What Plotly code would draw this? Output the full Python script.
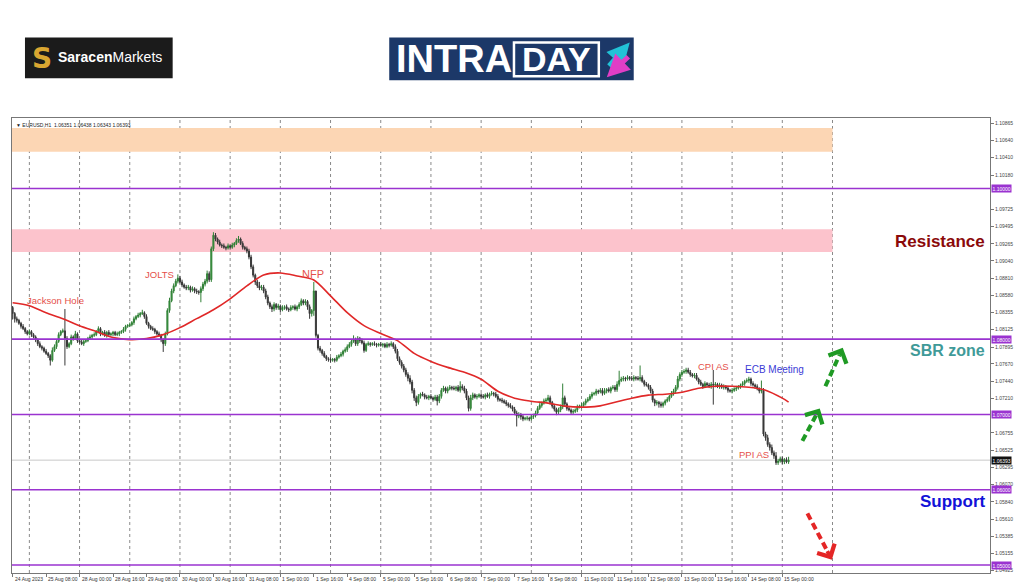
import plotly.graph_objects as go

# ------------------------------------------------------------------ data
# EURUSD H1, 24 Aug 2023 16:00 -> 15 Sep 2023 03:00 (372 bars)
# prices stored in pips above 1.0000  (price = 1 + pips/10000)
first_open_pips = 842
close_pips = [
    834, 827, 825, 821, 817, 814, 810, 807, 810, 806, 803, 799,
    794, 790, 788, 784, 781, 778, 772, 785, 790, 797, 806, 810,
    811, 801, 790, 794, 803, 801, 807, 798, 796, 794, 797, 798,
    801, 803, 805, 806, 810, 814, 807, 809, 805, 809, 806, 807,
    809, 806, 807, 809, 810, 813, 817, 818, 819, 822, 827, 830,
    832, 834, 835, 830, 821, 817, 814, 813, 810, 807, 805, 799,
    794, 807, 838, 851, 864, 871, 877, 881, 876, 872, 869, 868,
    869, 865, 867, 864, 863, 862, 867, 873, 877, 887, 879, 920,
    938, 933, 929, 925, 924, 922, 921, 924, 922, 925, 927, 931,
    933, 927, 922, 920, 917, 909, 896, 885, 876, 871, 868, 869,
    864, 856, 848, 843, 840, 846, 842, 844, 839, 842, 843, 840,
    839, 842, 843, 840, 843, 846, 851, 848, 850, 843, 834, 838,
    864, 805, 788, 785, 781, 777, 774, 773, 772, 773, 772, 776,
    778, 780, 784, 786, 790, 793, 797, 799, 794, 801, 798, 795,
    785, 793, 794, 793, 794, 793, 792, 793, 792, 793, 790, 793,
    792, 794, 790, 784, 774, 769, 764, 759, 753, 748, 743, 732,
    722, 716, 724, 727, 726, 723, 722, 724, 722, 720, 723, 718,
    724, 732, 735, 731, 734, 736, 735, 734, 736, 732, 737, 735,
    731, 722, 708, 722, 726, 723, 724, 726, 724, 723, 726, 724,
    727, 728, 727, 724, 720, 719, 718, 716, 714, 712, 710, 707,
    702, 698, 700, 697, 694, 695, 695, 694, 697, 698, 702, 708,
    712, 715, 718, 719, 722, 716, 711, 707, 703, 706, 710, 722,
    714, 708, 706, 703, 704, 706, 710, 711, 712, 715, 718, 720,
    724, 727, 728, 731, 730, 732, 728, 731, 733, 731, 735, 736,
    733, 740, 745, 747, 748, 747, 749, 748, 747, 749, 748, 747,
    749, 744, 740, 739, 736, 731, 719, 715, 716, 714, 712, 715,
    718, 720, 724, 728, 731, 736, 747, 753, 756, 757, 759, 756,
    753, 751, 752, 747, 743, 740, 737, 741, 739, 737, 740, 739,
    740, 737, 739, 736, 737, 735, 732, 731, 732, 734, 735, 737,
    739, 741, 744, 745, 747, 741, 739, 737, 734, 731, 732, 674,
    669, 660, 656, 649, 645, 636, 638, 641, 637, 640, 637, 639.3,
]
upper_wick_pips = [
    2, 2, 3, 2, 2, 3, 2, 2, 3, 2, 2, 2,
    2, 3, 2, 2, 3, 2, 2, 4, 3, 2, 3, 2,
    3, 29, 3, 2, 3, 2, 4, 2, 2, 3, 2, 2,
    2, 3, 2, 3, 2, 3, 2, 2, 3, 2, 3, 2,
    2, 2, 3, 2, 2, 3, 2, 2, 3, 2, 3, 2,
    3, 2, 4, 2, 3, 2, 2, 3, 2, 2, 3, 2,
    2, 3, 3, 4, 3, 3, 3, 5, 3, 3, 2, 3,
    3, 2, 3, 2, 3, 2, 3, 3, 3, 4, 3, 3,
    4, 3, 2, 3, 2, 3, 2, 3, 2, 3, 2, 3,
    4, 2, 3, 2, 3, 3, 3, 3, 2, 3, 5, 3,
    3, 3, 3, 2, 3, 3, 2, 3, 2, 3, 2, 3,
    2, 3, 2, 3, 2, 3, 3, 2, 3, 2, 3, 2,
    12, 0, 2, 3, 2, 3, 2, 2, 3, 2, 2, 3,
    2, 3, 2, 3, 3, 3, 3, 6, 3, 3, 2, 3,
    3, 2, 3, 2, 2, 3, 2, 2, 3, 2, 2, 3,
    2, 3, 2, 3, 3, 3, 3, 3, 3, 3, 4, 3,
    3, 3, 3, 2, 3, 2, 3, 2, 3, 2, 3, 3,
    3, 3, 3, 2, 3, 3, 2, 3, 2, 3, 7, 3,
    3, 3, 3, 4, 3, 2, 3, 2, 2, 3, 2, 3,
    2, 3, 2, 3, 3, 2, 3, 2, 3, 2, 3, 2,
    3, 3, 3, 2, 3, 2, 3, 2, 3, 3, 3, 3,
    3, 2, 3, 3, 4, 3, 2, 3, 2, 3, 3, 19,
    3, 2, 3, 2, 3, 2, 3, 2, 3, 2, 3, 3,
    3, 3, 2, 3, 2, 3, 3, 4, 2, 3, 2, 3,
    3, 4, 13, 3, 3, 2, 3, 2, 3, 3, 2, 3,
    16, 3, 2, 3, 2, 3, 3, 2, 3, 2, 3, 2,
    2, 3, 2, 3, 3, 3, 4, 3, 3, 3, 3, 3,
    3, 2, 3, 3, 2, 3, 2, 3, 2, 3, 3, 19,
    3, 2, 3, 2, 3, 2, 3, 2, 3, 2, 3, 2,
    2, 3, 2, 3, 3, 2, 3, 2, 3, 2, 13, 3,
    3, 4, 3, 4, 3, 5, 3, 3, 3, 2, 3, 4.5,
]
lower_wick_pips = [
    8, 5, 3, 2, 3, 2, 3, 2, 2, 3, 2, 3,
    3, 2, 3, 2, 2, 3, 7, 2, 2, 3, 2, 2,
    2, 36, 3, 2, 2, 3, 2, 3, 2, 2, 3, 2,
    2, 2, 3, 2, 2, 2, 3, 2, 2, 3, 2, 2,
    3, 2, 2, 3, 2, 2, 3, 2, 2, 2, 3, 2,
    2, 3, 2, 3, 2, 3, 2, 2, 3, 2, 2, 3,
    11, 3, 2, 3, 2, 3, 2, 3, 2, 3, 2, 3,
    3, 3, 2, 3, 3, 3, 13, 3, 3, 3, 3, 3,
    3, 3, 3, 2, 3, 2, 3, 2, 3, 2, 3, 2,
    3, 2, 3, 2, 3, 3, 3, 3, 4, 3, 3, 3,
    3, 3, 3, 3, 4, 3, 3, 3, 3, 2, 3, 2,
    3, 2, 3, 2, 3, 3, 2, 3, 3, 4, 7, 4,
    7, 3, 3, 3, 3, 2, 3, 3, 3, 2, 3, 2,
    2, 2, 3, 2, 3, 2, 3, 2, 3, 3, 3, 2,
    3, 2, 2, 3, 2, 2, 3, 2, 2, 3, 2, 2,
    3, 2, 3, 3, 3, 3, 3, 3, 3, 4, 3, 4,
    4, 5, 3, 3, 2, 3, 2, 3, 2, 3, 2, 6,
    3, 3, 2, 3, 3, 2, 3, 2, 3, 2, 3, 3,
    3, 3, 4, 3, 3, 2, 3, 2, 3, 2, 3, 2,
    3, 2, 3, 2, 3, 2, 3, 2, 3, 3, 2, 3,
    3, 14, 3, 4, 3, 2, 3, 3, 2, 3, 2, 3,
    2, 3, 2, 3, 2, 3, 3, 3, 4, 3, 3, 3,
    3, 3, 2, 3, 3, 2, 3, 2, 3, 2, 3, 2,
    2, 3, 2, 3, 3, 2, 3, 2, 3, 2, 3, 2,
    3, 3, 3, 2, 3, 3, 2, 3, 2, 3, 3, 2,
    3, 2, 3, 2, 3, 3, 3, 4, 3, 5, 3, 3,
    3, 2, 3, 2, 3, 3, 3, 3, 3, 2, 3, 2,
    3, 2, 3, 2, 3, 2, 3, 2, 3, 2, 3, 26,
    3, 2, 3, 2, 3, 2, 3, 2, 3, 2, 3, 2,
    3, 2, 3, 2, 3, 3, 2, 3, 2, 3, 3, 3,
    4, 3, 4, 3, 4, 3, 3, 2, 3, 3, 2, 2.7,
]

# moving average (red line) read every 8 bars
ma_bars = list(range(0, 369, 8)) + [371]
ma_pips = [
    848.3, 844.3, 835.1, 827.2, 817.9, 810.0, 802.1, 799.4, 800.8, 806.0,
    815.3, 827.2, 839.0, 853.6, 870.7, 885.2, 887.9, 883.9, 878.6, 857.5,
    835.1, 817.9, 807.4, 798.1, 781.0, 770.4, 762.5, 755.9, 746.7, 730.8,
    721.6, 717.6, 715.0, 711.0, 709.7, 711.0, 716.3, 721.6, 725.6, 726.9,
    729.5, 734.8, 737.4, 737.4, 736.1, 732.2, 721.6, 716.3,
]

time_label_bars = list(range(0, 369, 16))
time_labels = [
    "24 Aug 2023", "25 Aug 08:00", "28 Aug 00:00", "28 Aug 16:00", "29 Aug 08:00",
    "30 Aug 00:00", "30 Aug 16:00", "31 Aug 08:00", "1 Sep 00:00", "1 Sep 16:00",
    "4 Sep 08:00", "5 Sep 00:00", "5 Sep 16:00", "6 Sep 08:00", "7 Sep 00:00",
    "7 Sep 16:00", "8 Sep 08:00", "11 Sep 00:00", "11 Sep 16:00", "12 Sep 08:00",
    "13 Sep 00:00", "13 Sep 16:00", "14 Sep 08:00", "15 Sep 00:00",
]
day_start_bars = list(range(8, 393, 24))

# price scale labels (those hidden behind level boxes are left out)
price_ticks = [
    1.10865, 1.10640, 1.10410, 1.10180, 1.09725, 1.09495, 1.09265, 1.09040,
    1.08810, 1.08580, 1.08355, 1.08125, 1.07895, 1.07670, 1.07440, 1.07210,
    1.06755, 1.06525, 1.06295, 1.06070, 1.05840, 1.05610, 1.05385, 1.05155, 1.04925,
]
key_levels = [1.10000, 1.08000, 1.07000, 1.06000, 1.05000]
current_price = 1.06393
zones = [  # (low, high, colour)
    (1.10488, 1.10805, "#fcd6b4"),
    (1.09156, 1.09459, "#fcc3cc"),
]
zone_end_bar = 392

events = [  # text, bar, price, colour, size
    ("Jackson Hole", 20.3, 1.08509, "#e5504a", 9.5),
    ("JOLTS", 70.1, 1.08865, "#e5504a", 9.5),
    ("NFP", 143.8, 1.08868, "#e5504a", 11),
    ("CPI AS", 335.1, 1.07643, "#e5504a", 9.5),
    ("ECB Meeting", 364.2, 1.07599, "#3b3bd6", 10),
    ("PPI AS", 354.3, 1.06468, "#e5504a", 9.5),
]
zone_labels = [  # text, price, colour, size
    ("Resistance", 1.09301, "#8b0a0a", 17),
    ("SBR zone", 1.07850, "#3f9a98", 16),
    ("Support", 1.05844, "#1212d8", 17),
]
scenario_arrows = [  # (bar0, price0, bar1, price1, colour)
    (377.6, 1.06649, 385.9, 1.07080, "#1f9a24"),
    (388.6, 1.07375, 396.9, 1.07885, "#1f9a24"),
    (380.0, 1.05686, 391.7, 1.05070, "#e42626"),
]
info_text = "\u25bc EURUSD,H1  1.06351 1.06438 1.06343 1.06393"

# ------------------------------------------------------------------ build
n = len(close_pips)
bars = list(range(n))
closes = [1 + c / 10000 for c in close_pips]
opens = [1 + first_open_pips / 10000] + closes[:-1]
highs = [max(o, c) + u / 10000 for o, c, u in zip(opens, closes, upper_wick_pips)]
lows = [min(o, c) - d / 10000 for o, c, d in zip(opens, closes, lower_wick_pips)]
ma_vals = [1 + m / 10000 for m in ma_pips]

X_RANGE = [-0.3, 467.3]
Y_RANGE = [1.04894, 1.10937]
FONT = "Liberation Sans, Arial, sans-serif"
PURPLE = "#9a33d0"

fig = go.Figure()

fig.add_trace(go.Candlestick(
    x=bars, open=opens, high=highs, low=lows, close=closes,
    increasing=dict(line=dict(color="#2f7f35", width=1), fillcolor="#3ea544"),
    decreasing=dict(line=dict(color="#383838", width=1), fillcolor="#383838"),
    whiskerwidth=0, showlegend=False, hoverinfo="skip",
))

fig.add_trace(go.Scatter(
    x=ma_bars, y=ma_vals, mode="lines",
    line=dict(color="#e02828", width=1.6, shape="spline", smoothing=0.8),
    showlegend=False, hoverinfo="skip",
))

annotations = []

# dashed scenario arrows
for b0, p0, b1, p1, col in scenario_arrows:
    fig.add_trace(go.Scatter(
        x=[b0, b0 + (b1 - b0) * 0.82], y=[p0, p0 + (p1 - p0) * 0.82], mode="lines",
        line=dict(color=col, width=4, dash="7px,4px"),
        showlegend=False, hoverinfo="skip",
    ))
    annotations.append(dict(
        x=b1, y=p1, ax=b0 + (b1 - b0) * 0.78, ay=p0 + (p1 - p0) * 0.78,
        xref="x", yref="y", axref="x", ayref="y", text="",
        showarrow=True, arrowhead=4, arrowsize=1.0, arrowwidth=3.8, arrowcolor=col,
    ))

shapes = []
for lo, hi, col in zones:
    shapes.append(dict(type="rect", xref="x", yref="y", x0=X_RANGE[0], x1=zone_end_bar,
                       y0=lo, y1=hi, fillcolor=col, line=dict(width=0), layer="below"))
for b in day_start_bars:
    shapes.append(dict(type="line", xref="x", yref="paper", x0=b, x1=b, y0=0, y1=1,
                       line=dict(color="#8a8a8a", width=1, dash="dot"), layer="below"))
shapes.append(dict(type="line", xref="paper", yref="y", x0=0, x1=1,
                   y0=current_price, y1=current_price,
                   line=dict(color="#c8c8c8", width=1), layer="below"))
for lv in key_levels:
    shapes.append(dict(type="line", xref="paper", yref="y", x0=0, x1=1, y0=lv, y1=lv,
                       line=dict(color=PURPLE, width=1.6), layer="above"))


# ---- logos (paper coordinates: plot spans x 11..991 px, y 118..576 px)
def xp(px):
    return (px - 11) / 980.0


def yp(py):
    return (576 - py) / 458.0


shapes.append(dict(type="rect", xref="paper", yref="paper", x0=xp(24), x1=xp(172),
                   y0=yp(78), y1=yp(37), fillcolor="#1b1b1b", line=dict(width=0)))
shapes.append(dict(type="rect", xref="paper", yref="paper", x0=xp(389), x1=xp(634),
                   y0=yp(80), y1=yp(37), fillcolor="#1c3868", line=dict(width=0)))
shapes.append(dict(type="rect", xref="paper", yref="paper", x0=xp(514), x1=xp(599),
                   y0=yp(76), y1=yp(42), fillcolor="rgba(0,0,0,0)",
                   line=dict(color="white", width=2.5)))


def logo_text(cx, cy, text, size, color, family=FONT):
    annotations.append(dict(xref="paper", yref="paper", x=xp(cx), y=yp(cy),
                            xanchor="center", yanchor="middle", text=text,
                            showarrow=False, font=dict(family=family, size=size, color=color)))


logo_text(41, 58, "<b>S</b>", 28, "#d9a631", "DejaVu Sans")
logo_text(109, 57, "<b>Saracen</b>Markets", 14, "white")
logo_text(454, 59, "<b>INTRA</b>", 38, "white")
logo_text(556.5, 59, "<b>DAY</b>", 34, "white")
annotations.append(dict(xref="paper", yref="paper", x=xp(630), y=yp(42), ax=-22, ay=25,
                        text="", showarrow=True, arrowhead=2, arrowsize=0.9, arrowwidth=5,
                        arrowcolor="#22c2d6"))
annotations.append(dict(xref="paper", yref="paper", x=xp(607), y=yp(77), ax=23, ay=-22,
                        text="", showarrow=True, arrowhead=2, arrowsize=0.9, arrowwidth=5,
                        arrowcolor="#e03ec6"))

# info line
annotations.append(dict(xref="paper", yref="paper", x=0, y=1, xanchor="left", yanchor="top",
                        xshift=2, yshift=-2, text=info_text, showarrow=False,
                        font=dict(family=FONT, size=5, color="#222")))

# time labels (left aligned at their bar, MT4 style)
for b, t in zip(time_label_bars, time_labels):
    annotations.append(dict(xref="x", yref="paper", x=b, y=0, xanchor="left", yanchor="top",
                            yshift=-1, text=t, showarrow=False,
                            font=dict(family=FONT, size=5, color="#333")))

# level price boxes
for lv in key_levels:
    annotations.append(dict(xref="paper", yref="y", x=1, y=lv, xanchor="left", yanchor="middle",
                            xshift=1, text=f"{lv:.5f}", showarrow=False, bgcolor=PURPLE,
                            borderpad=0.5, font=dict(family=FONT, size=5, color="white")))
annotations.append(dict(xref="paper", yref="y", x=1, y=current_price, xanchor="left",
                        yanchor="middle", xshift=1, text=f"{current_price:.5f}",
                        showarrow=False, bgcolor="#111", borderpad=0.5,
                        font=dict(family=FONT, size=5, color="white")))

for t, b, p, col, sz in events:
    annotations.append(dict(xref="x", yref="y", x=b, y=p, text=t, showarrow=False,
                            xanchor="center", yanchor="middle",
                            font=dict(family=FONT, size=sz, color=col)))
for t, p, col, sz in zone_labels:
    annotations.append(dict(xref="paper", yref="y", x=xp(988), y=p, xanchor="right",
                            yanchor="middle", text=f"<b>{t}</b>", showarrow=False,
                            font=dict(family=FONT, size=sz, color=col)))

fig.update_layout(
    width=1024, height=587, autosize=False,
    margin=dict(l=11, r=33, t=118, b=11, pad=0),
    paper_bgcolor="white", plot_bgcolor="white",
    shapes=shapes, annotations=annotations,
    xaxis=dict(range=X_RANGE, tickvals=time_label_bars, showticklabels=False,
               ticks="outside", ticklen=3, tickcolor="#777", showgrid=False, zeroline=False,
               showline=True, linecolor="#777", linewidth=1, mirror=True,
               rangeslider=dict(visible=False), fixedrange=True),
    yaxis=dict(range=Y_RANGE, side="right", tickvals=price_ticks,
               ticktext=[f"{v:.5f}" for v in price_ticks], ticks="outside", ticklen=3,
               tickcolor="#777", tickfont=dict(family=FONT, size=5, color="#444"),
               showgrid=False, zeroline=False, showline=True, linecolor="#777",
               linewidth=1, mirror=True, fixedrange=True),
    hovermode=False,
)

fig.write_html("out.html", config={"displayModeBar": False, "staticPlot": True},
               post_script="document.body.style.margin='0px';")
